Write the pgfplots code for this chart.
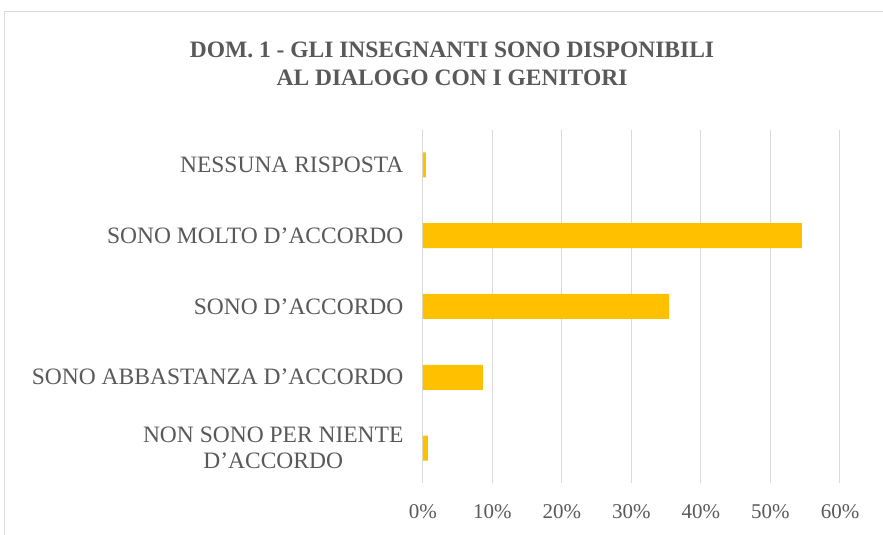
\documentclass[border=0pt]{standalone}
\usepackage{pgfplots}
\pgfplotsset{compat=1.18}
\usepackage{fontspec}
\setmainfont{Liberation Serif}
\definecolor{bargold}{HTML}{FFC000}
\definecolor{txtgray}{HTML}{595959}
\definecolor{gridgray}{HTML}{D9D9D9}
\begin{document}
\begin{tikzpicture}
\begin{axis}[
  at={(0pt,0pt)}, anchor=south west,
  scale only axis,
  width=417pt, height=353.8pt,
  xbar, bar width=25pt,
  xmin=0, xmax=60,
  ymin=-0.5, ymax=4.5,
  xtick={0,10,...,60},
  xticklabel={\pgfmathprintnumber{\tick}\%},
  /pgf/number format/assume math mode=true,
  ytick={0,1,2,3,4},
  yticklabels={{NON SONO PER NIENTE\\D'ACCORDO},{SONO ABBASTANZA D'ACCORDO},{SONO D'ACCORDO},{SONO MOLTO D'ACCORDO},{NESSUNA RISPOSTA}},
  yticklabel style={align=center, font=\fontsize{23.5}{26}\selectfont, text=txtgray},
  xticklabel style={font=\fontsize{21}{24}\selectfont, text=txtgray},
  xmajorgrids, grid style={gridgray, line width=1pt},
  axis line style={draw=none},
  major tick length=0pt,
  xtick pos=bottom, ytick pos=left,
  xticklabel shift=18pt,
  yticklabel shift=16pt,
]
\addplot[fill=bargold, draw=none] coordinates {(0.7,0) (8.6,1) (35.4,2) (54.5,3) (0.4,4)};
\end{axis}
\node[font=\bfseries\fontsize{23.5}{25}\selectfont, text=txtgray, anchor=base] at (29pt,425.4pt) {DOM. 1 - GLI INSEGNANTI SONO DISPONIBILI};
\node[font=\bfseries\fontsize{23.5}{25}\selectfont, text=txtgray, anchor=base] at (29pt,397.4pt) {AL DIALOGO CON I GENITORI};
\draw[gridgray, line width=1pt] (-418pt,-80pt) rectangle (480pt,471.4pt);
\pgfresetboundingbox
\useasboundingbox (-423pt,-51.6pt) rectangle (460pt,483.4pt);
\end{tikzpicture}
\end{document}
